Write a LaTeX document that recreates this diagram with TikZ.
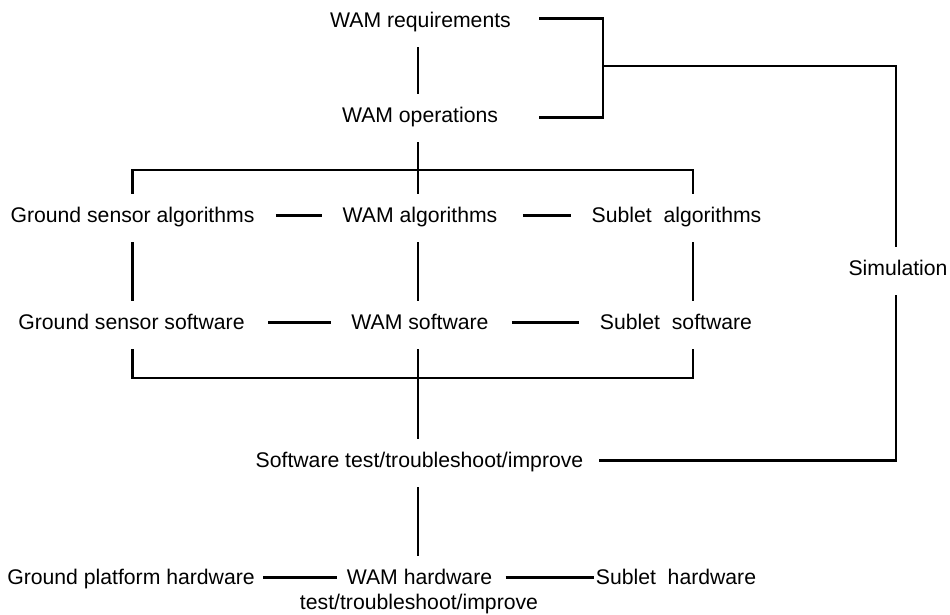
\documentclass[tikz,border=0pt]{standalone}
\usepackage{fontspec}
\setmainfont{Liberation Sans}
\begin{document}
\begin{tikzpicture}[x=0.5pt,y=-0.5pt,
  lbl/.style={font=\fontsize{10.6}{12.7}\selectfont, inner sep=0pt,
              text height=14.3pt, text depth=9.45pt, anchor=base},
  wire/.style={line width=1.45pt, black}]
\useasboundingbox (0,0) rectangle (950,615);

% labels (placed on their baselines)
\node[lbl] (req)   at (420.5,28)  {WAM requirements};
\node[lbl] (ops)   at (420,123)   {WAM operations};
\node[lbl] (gsa)   at (132.5,223) {Ground sensor algorithms};
\node[lbl] (wama)  at (420,223)   {WAM algorithms};
\node[lbl] (suba)  at (676.5,223) {Sublet~~algorithms};
\node[lbl] (gss)   at (131.5,330) {Ground sensor software};
\node[lbl] (wams)  at (420,330)   {WAM software};
\node[lbl] (subs)  at (676,330)   {Sublet~~software};
\node[lbl] (sim)   at (898,276)   {Simulation};
\node[lbl] (swt)   at (419.5,468) {Software test/troubleshoot/improve};
\node[lbl] (gph)   at (131,585)   {Ground platform hardware};
\node[lbl] (wamh)  at (419.5,585) {WAM hardware};
\node[lbl] (wamht) at (419,610)   {test/troubleshoot/improve};
\node[lbl] (subh)  at (676,585)   {Sublet~~hardware};

% junctions and column positions
\coordinate (brk) at (603,66);
\coordinate (tj)  at (418,170);
\coordinate (bj)  at (418,378);
\coordinate (wc)  at (418,0);
\coordinate (rc)  at (693,0);
\coordinate (sc)  at (896,0);

% requirements / operations and the simulation loop
\draw[wire] (wc |- req.south) -- (wc |- ops.north);
\draw[wire] ([shift={(14pt,2.4pt)}]req.east) -| (brk)
            |- ([shift={(20.5pt,0.4pt)}]ops.east);
\draw[wire] (brk) -| (sc |- sim.north);
\draw[wire] (sc |- sim.south) |- ([shift={(7.5pt,1.4pt)}]swt.east);

% top bar feeding the algorithm row
\draw[wire] (wc |- ops.south) -- (tj);
\draw[wire] (gsa.north) |- (tj) -| (rc |- suba.north);
\draw[wire] (wc |- wama.north) -- (tj);

% algorithm row
\draw[wire] ([shift={(10.5pt,1.4pt)}]gsa.east) -- ([shift={(-10pt,1.4pt)}]wama.west);
\draw[wire] ([shift={(12.5pt,1.4pt)}]wama.east) -- ([shift={(-10pt,1.4pt)}]suba.west);

% algorithms to software
\draw[wire] (gsa.south) -- (gsa.south |- gss.north);
\draw[wire] (wc |- wama.south) -- (wc |- wams.north);
\draw[wire] (rc |- suba.south) -- (rc |- subs.north);

% software row
\draw[wire] ([shift={(11.5pt,1.4pt)}]gss.east) -- ([shift={(-10pt,1.4pt)}]wams.west);
\draw[wire] ([shift={(11.5pt,1.4pt)}]wams.east) -- ([shift={(-10.5pt,1.4pt)}]subs.west);

% bottom bar and test chain
\draw[wire] (gsa.south |- gss.south) |- (bj) -| (rc |- subs.south);
\draw[wire] (wc |- wams.south) -- (wc |- swt.north);
\draw[wire] (wc |- swt.south) -- (wc |- wamh.north);

% hardware row
\draw[wire] ([shift={(4pt,1.4pt)}]gph.east) -- ([shift={(-4.5pt,1.4pt)}]wamh.west);
\draw[wire] ([shift={(6.5pt,1.4pt)}]wamh.east) -- ([shift={(-0.5pt,1.4pt)}]subh.west);
\end{tikzpicture}
\end{document}
